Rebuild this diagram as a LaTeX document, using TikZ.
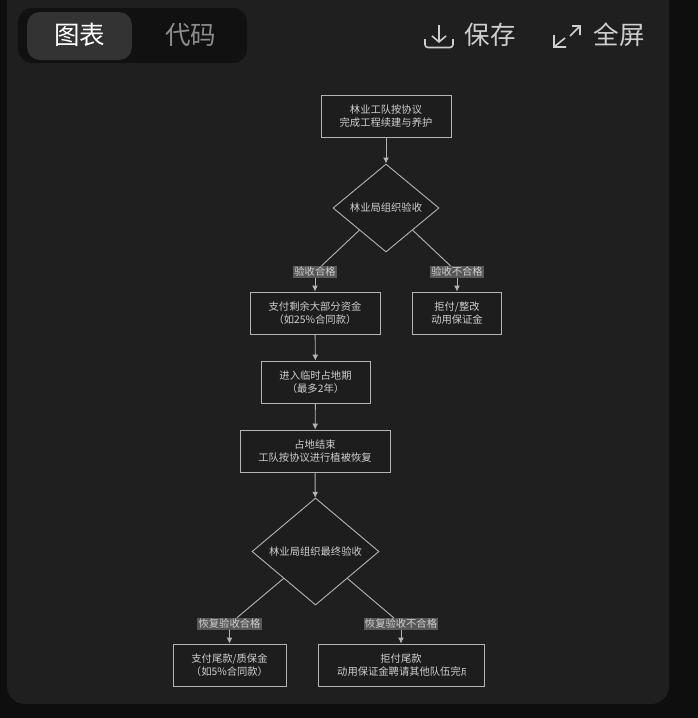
\documentclass[tikz,border=0pt]{standalone}
\usepackage{fontspec}
\setmainfont{Noto Sans CJK SC}
\usetikzlibrary{arrows.meta,shapes.geometric}
\definecolor{pagebg}{HTML}{0E0E0E}
\definecolor{panelbg}{HTML}{1F1F20}
\definecolor{tabbg}{HTML}{111111}
\definecolor{tabon}{HTML}{333333}
\definecolor{chartbg}{HTML}{1D1D1D}
\definecolor{linegray}{HTML}{B4B4B4}
\definecolor{textgray}{HTML}{CFCFCF}
\definecolor{labelbg}{HTML}{585858}
\tikzset{
  stepbox/.style={draw=linegray, line width=0.9pt, fill=chartbg, text=textgray, font=\fontsize{10.3}{13.6}\selectfont, align=center, inner sep=0pt},
  check/.style={diamond, draw=linegray, line width=0.9pt, fill=chartbg, text=textgray, font=\fontsize{10.3}{13.6}\selectfont, inner sep=0pt},
  result/.style={fill=labelbg, text=textgray, font=\fontsize{10.3}{12}\selectfont, inner sep=1.2pt},
  flow/.style={draw=linegray, line width=0.9pt},
  flowarrow/.style={flow, -{Latex[length=6pt,width=6pt]}},
  toptext/.style={font=\fontsize{25.5}{26}\selectfont}
}

\begin{document}
\begin{tikzpicture}[x=1pt,y=-1pt]
  \useasboundingbox (0,0) rectangle (698,718);
  \fill[pagebg] (0,0) rectangle (698,718);
  \fill[panelbg, rounded corners=18pt] (7,-30) rectangle (669,704);

  % tabs
  \fill[tabbg, rounded corners=14pt] (18,8) rectangle (247,63);
  \fill[tabon, rounded corners=13pt] (27,12) rectangle (132,60);
  \node[toptext, text=white] (tabchart) at (79.5,35) {图表};
  \node[toptext, text=white!55!black] (tabcode) at (190.5,35) {代码};

  % save and full screen
  \draw[textgray, line width=1.6pt, -{Straight Barb[length=6pt,width=14pt]}] (439,25) -- (439,43);
  \draw[textgray, line width=1.6pt, rounded corners=3pt] (425,39) -- (425,47.5) -- (453,47.5) -- (453,39);
  \node[toptext, text=textgray] (save) at (490,35) {保存};
  \draw[textgray, line width=1.6pt] (572,26) -- (580,26) -- (580,35) (580,26) -- (570,36);
  \draw[textgray, line width=1.6pt] (554,35) -- (554,47) -- (566,47) (554,47) -- (565,38);
  \node[toptext, text=textgray] (full) at (619,35) {全屏};

  % upper part of the chart
  \node[stepbox, minimum width=130pt, minimum height=42pt] (team) at (386,116) {林业工队按协议\\完成工程续建与养护};
  \node[check, minimum width=106pt, minimum height=88pt] (check1) at (386,208) {林业局组织验收};
  \node[stepbox, minimum width=130pt, minimum height=42pt] (pay) at (315,313) {支付剩余大部分资金\\（如25\%合同款）};
  \node[stepbox, minimum width=89pt, minimum height=42pt] (refuse) at (457,313) {拒付/整改\\动用保证金};
  \node[stepbox, minimum width=109pt, minimum height=42pt] (occupy) at (315.5,382) {进入临时占地期\\（最多2年）};
  \node[stepbox, minimum width=150pt, minimum height=42pt] (restore) at (315,451) {占地结束\\工队按协议进行植被恢复};

  % lower part of the chart
  \node[check, minimum width=127pt, minimum height=107pt] (check2) at (315.5,551.5) {林业局组织最终验收};
  \node[stepbox, minimum width=113pt, minimum height=42pt] (tail) at (229.5,665) {支付尾款/质保金\\（如5\%合同款）};
  \node[stepbox, minimum width=166pt, minimum height=42pt] (hire) at (401,665) {拒付尾款\\\phantom{动用保证金聘请其他队伍完成}};
  \begin{scope}
    \clip (330,650) rectangle (465,682);
    \node[text=textgray, font=\fontsize{10.3}{12}\selectfont, anchor=west, inner sep=0pt] (hiretext) at (337,672) {动用保证金聘请其他队伍完成};
  \end{scope}

  % branch labels
  \node[result] (ok1) at (315,272) {验收合格};
  \node[result] (fail1) at (457,272) {验收不合格};
  \node[result] (ok2) at (229.5,624) {恢复验收合格};
  \node[result] (fail2) at (401,624) {恢复验收不合格};

  \draw[flowarrow] (team) -- (check1);
  \draw[flow] (check1.south west) -- (ok1);
  \draw[flowarrow] (ok1) -- (pay);
  \draw[flow] (check1.south east) -- (fail1);
  \draw[flowarrow] (fail1) -- (refuse);
  \draw[flowarrow] (pay) -- (occupy);
  \draw[flowarrow] (occupy) -- (restore);
  \draw[flowarrow] (restore) -- (check2);
  \draw[flow] (check2.south west) -- (ok2);
  \draw[flowarrow] (ok2) -- (tail);
  \draw[flow] (check2.south east) -- (fail2);
  \draw[flowarrow] (fail2) -- (hire);
\end{tikzpicture}
\end{document}
